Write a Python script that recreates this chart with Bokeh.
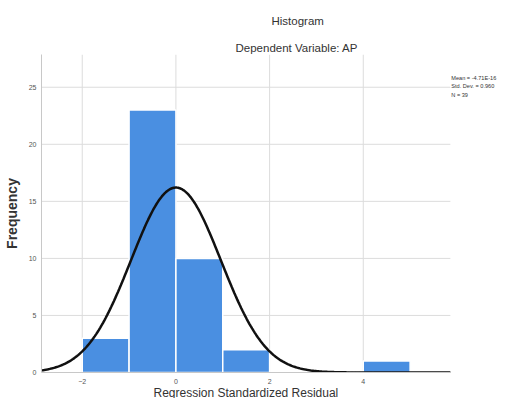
import numpy as np
from bokeh.plotting import figure
from bokeh.models import Label, Range1d, FixedTicker, Title
from bokeh.embed import file_html
from bokeh.resources import INLINE

# Histogram bins (Regression Standardized Residual) and frequencies
bin_left = [-2, -1, 0, 1, 4]
bin_right = [-1, 0, 1, 2, 5]
freq = [3, 23, 10, 2, 1]

# Summary statistics shown in the legend
mean_val = -4.71e-16
std_dev = 0.960
n_obs = 39
stats_text = ["Mean = -4.71E-16", "Std. Dev. = 0.960", "N = 39"]

x_ticks = [-2, 0, 2, 4]
y_ticks = [0, 5, 10, 15, 20, 25]

X_MIN, X_MAX = -2.87, 5.86      # extent of the plotted data area
Y_MAX = 27.87
FONT = "Liberation Sans"

p = figure(width=500, height=398, output_backend="svg", toolbar_location=None,
           x_range=Range1d(X_MIN, 6.93), y_range=Range1d(0, Y_MAX),
           min_border_left=34, min_border_right=0, min_border_top=46, min_border_bottom=26)
p.outline_line_color = None
p.background_fill_color = "white"
p.xgrid.visible = False
p.ygrid.visible = False

# grid lines limited to the data area
p.segment(x0=X_MIN, x1=X_MAX, y0=y_ticks, y1=y_ticks, line_color="#dcdcdc", line_width=1)
p.segment(x0=x_ticks, x1=x_ticks, y0=0, y1=Y_MAX, line_color="#dcdcdc", line_width=1)

p.quad(left=bin_left, right=bin_right, bottom=0, top=freq,
       fill_color="#4a8fe1", line_color="white", line_width=1.5)

# Normal curve fitted with mean, std dev and N (bin width 1)
xs = np.linspace(X_MIN, X_MAX, 300)
ys = n_obs * 1.0 / (std_dev * np.sqrt(2 * np.pi)) * np.exp(-0.5 * ((xs - mean_val) / std_dev) ** 2)
p.line(xs, ys, line_color="#111111", line_width=2.5)

for ax in (p.xaxis[0], p.yaxis[0]):
    ax.major_tick_line_color = None
    ax.minor_tick_line_color = None
    ax.major_tick_out = 0
    ax.major_tick_in = 0
    ax.minor_tick_out = 0
    ax.axis_line_color = "#c8c8c8"
    ax.major_label_text_font = FONT
    ax.major_label_text_font_size = "7px"
    ax.major_label_text_color = "#555555"
    ax.axis_label_text_font = FONT
    ax.axis_label_text_color = "#333333"

p.xaxis.bounds = (X_MIN, X_MAX)
p.yaxis.bounds = (0, Y_MAX)
p.xaxis.ticker = FixedTicker(ticks=x_ticks)
p.yaxis.ticker = FixedTicker(ticks=y_ticks)
p.xaxis.major_label_standoff = 6
p.yaxis.major_label_standoff = 5
p.yaxis.axis_label = "Frequency"
p.yaxis.axis_label_text_font_size = "14px"
p.yaxis.axis_label_text_font_style = "bold"
p.yaxis.axis_label_standoff = 6

p.add_layout(Title(text="Regression Standardized Residual", text_font=FONT, text_font_size="12px",
                   text_font_style="normal", text_color="#333333", align="left",
                   offset=112, standoff=-4, vertical_align="middle"), "below")

p.add_layout(Title(text="Dependent Variable: AP", text_font=FONT, text_font_size="11.5px",
                   text_font_style="normal", text_color="#333333", align="left",
                   offset=194, standoff=2, vertical_align="bottom"), "above")
p.add_layout(Title(text="Histogram", text_font=FONT, text_font_size="11.5px",
                   text_font_style="normal", text_color="#333333", align="left",
                   offset=230, standoff=24, vertical_align="bottom"), "above")

for i, t in enumerate(stats_text):
    p.add_layout(Label(x=5.88, y=25.85 - 0.76 * i, text=t, text_font=FONT, text_font_size="5.6px",
                       text_color="#333333", text_align="left", text_baseline="middle"))

open("out.html", "w").write(file_html(p, INLINE))
